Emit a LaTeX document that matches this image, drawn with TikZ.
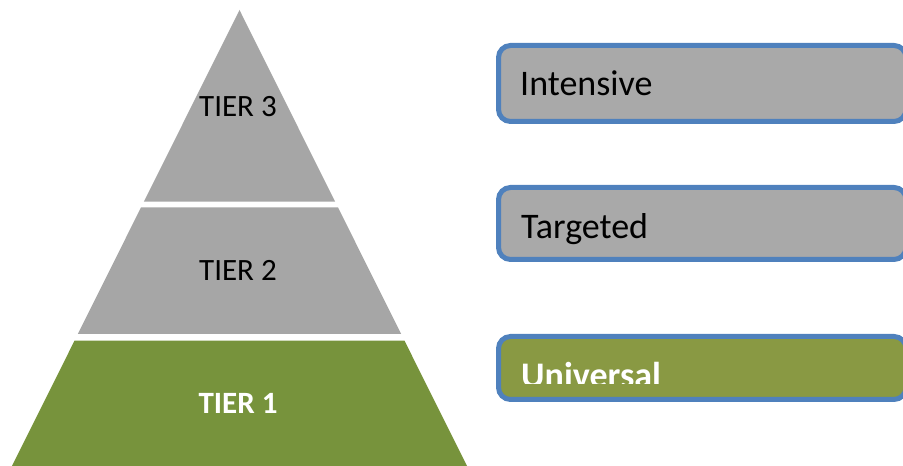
\documentclass[tikz,border=0pt]{standalone}
\usepackage{fontspec}
\setmainfont{Carlito}
\usetikzlibrary{calc, positioning}

\definecolor{tiergray}{HTML}{A6A6A6}
\definecolor{tiergreen}{HTML}{77933C}
\definecolor{boxgray}{HTML}{A9A9A9}
\definecolor{boxgreen}{HTML}{899943}
\definecolor{boxblue}{HTML}{4F81BD}

\begin{document}
\begin{tikzpicture}[
    x=1pt, y=1pt,
    tierlabel/.style={inner sep=0, font=\fontsize{31}{37}\selectfont},
    levelbox/.style={draw=boxblue, line width=5pt, rounded corners=12pt, fill=boxgray, anchor=west, inner sep=0, minimum width=407.5pt},
    levellabel/.style={anchor=base west, inner sep=0, font=\fontsize{36}{42}\selectfont}
]

    % Page frame
    \clip (0,0) rectangle (903,466);

    % Pyramid corners
    \coordinate (apex) at (239.5,456);
    \coordinate (bl) at (12,0);
    \coordinate (br) at (467,0);

    % Tier 3 (top)
    \fill [tiergray] (apex) -- ($(apex)!0.42!(bl)$) -- ($(apex)!0.42!(br)$) -- cycle;
    % Tier 2
    \fill [tiergray] ($(apex)!0.433!(bl)$) -- ($(apex)!0.7105!(bl)$) -- ($(apex)!0.7105!(br)$) -- ($(apex)!0.433!(br)$) -- cycle;
    % Tier 1 (base)
    \fill [tiergreen] ($(apex)!0.725!(bl)$) -- (bl) -- (br) -- ($(apex)!0.725!(br)$) -- cycle;

    \node [tierlabel] (tier3) at (238,359.5) {TIER 3};
    \node [tierlabel] (tier2) at (238,196) {TIER 2};
    \node [tierlabel, text=white, font=\fontsize{31}{37}\selectfont\bfseries] (tier1) at (238,63) {TIER 1};

    % Levels on the right
    \node [levelbox, minimum height=76pt] (intensive) at (496,382.5) {};
    \node [levelbox, minimum height=72pt] (targeted) at (496,242.5) {};
    \node [levelbox, minimum height=63pt, fill=boxgreen] (universal) at (496,98) {};

    \node [levellabel] (intensivetext) at ($(intensive.west)+(24,-12.5)$) {Intensive};
    \node [levellabel] (targetedtext) at ($(targeted.west)+(25,-15.5)$) {Targeted};
    % Universal text is cut off at the bottom
    \begin{scope}
        \clip (500,82) rectangle (903,127);
        \node [levellabel, text=white, font=\fontsize{36}{42}\selectfont\bfseries] (universaltext) at ($(universal.west)+(25,-19.5)$) {Universal};
    \end{scope}

\end{tikzpicture}
\end{document}
